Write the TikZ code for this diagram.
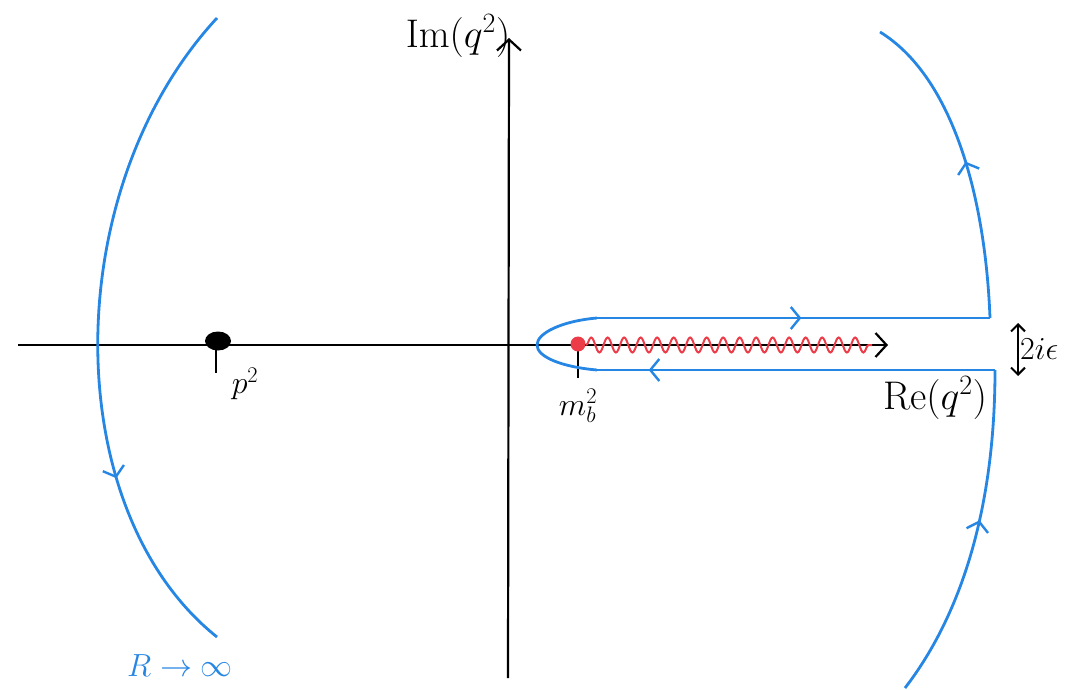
\documentclass[tikz,border=0pt]{standalone}
\usepackage{fix-cm}
\usepackage{amsmath}
\usepackage{tikz}
\usetikzlibrary{arrows.meta,positioning,shapes.geometric,decorations.pathmorphing,decorations.markings}
\definecolor{contblue}{RGB}{38,134,228}
\definecolor{cutred}{RGB}{236,60,72}

\begin{document}
\begin{tikzpicture}[
  x=1pt, y=-1pt,
  axis/.style={line width=2.2pt, -{Straight Barb[length=11pt, width=24pt, line width=2.2pt]}},
  cont/.style={contblue, line width=2.8pt},
  midarr/.style={postaction={decorate, decoration={markings,
      mark=at position #1 with {\arrow[contblue]{Straight Barb[length=9pt, width=22pt, line width=2.4pt]}}}}},
  lab/.style={font=\fontsize{40}{44}\selectfont, inner sep=1pt},
  slab/.style={font=\fontsize{32}{36}\selectfont, inner sep=1pt},
  tick/.style={line width=2.6pt}
]
\useasboundingbox (0,0) rectangle (1081,690);

% axes
\coordinate (reL) at (18,345);
\coordinate (reR) at (888,345);
\coordinate (imB) at (508,678);
\coordinate (imT) at (509,38);
\draw[axis] (reL) -- (reR);
\draw[axis] (imB) -- (imT);
\node[lab] (imlab) at (458,36) {$\mathrm{Im}(q^2)$};
\node[lab] (relab) at (935,398) {$\mathrm{Re}(q^2)$};

% pole at p^2
\coordinate (ptick) at (216,373);
\draw[tick] (216,342) -- (ptick);
\node[ellipse, fill, minimum width=26pt, minimum height=19pt, inner sep=0pt] (pdot) at (218,341) {};
\node[slab] (plab) at (245,384) {$p^2$};

% branch point and cut
\coordinate (mtick) at (578,378);
\draw[tick] (578,345) -- (mtick);
\coordinate (cutend) at (872,345);
\draw[cutred, line width=2pt, decorate,
      decoration={snake, segment length=16.5pt, amplitude=7.5pt}] (586,345) -- (cutend);
\node[circle, fill=cutred, minimum size=15pt, inner sep=0pt] (mdot) at (578,344) {};
\node[slab] (mlab) at (578,406) {$m_b^2$};

% keyhole contour
\coordinate (upR) at (990,318);
\coordinate (loR) at (995,370);
\coordinate (upL) at (597,318);
\coordinate (loL) at (597,370);
\coordinate (cusp) at (537,345);
\draw[cont, midarr=0.52] (upL) -- (upR);
\draw[cont, midarr=0.87] (loR) -- (loL);
\draw[cont] (upL) .. controls (562,321) and (537,333) .. (cusp)
             .. controls (537,357) and (562,367) .. (loL);

% large arcs
\coordinate (tarc) at (880,32);
\coordinate (barc) at (905,688);
\coordinate (ltop) at (217,18);
\coordinate (lbot) at (217,637);
\draw[cont, midarr=0.5] (upR) .. controls (985,190) and (950,75) .. (tarc);
\draw[cont, midarr=0.55] (barc) .. controls (965,610) and (995,500) .. (loR);
\draw[cont, midarr=0.72] (ltop) .. controls (58,190) and (58,510) .. (lbot);
\node[slab, contblue] (rlab) at (180,666) {$R\to\infty$};

% width of the gap
\coordinate (gapT) at (1018,323);
\coordinate (gapB) at (1018,376);
\draw[line width=2pt, {Straight Barb[length=7pt, width=14pt]}-{Straight Barb[length=7pt, width=14pt]}] (gapT) -- (gapB);
\node[slab, right=1pt of gapT, yshift=-26pt] (epslab) {$2i\epsilon$};
\end{tikzpicture}
\end{document}
